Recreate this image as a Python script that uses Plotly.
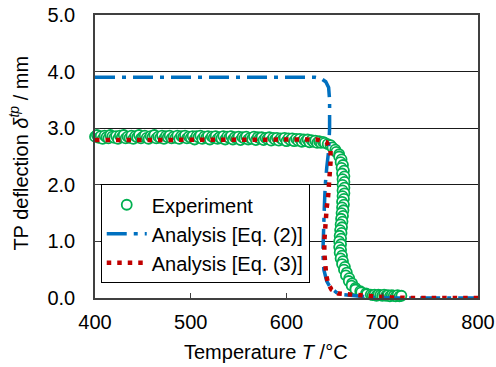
import plotly.graph_objects as go

# Experiment (green open circles) - flat part, every 2 degC from 400 to 638
exp_T_flat = list(range(400, 640, 2))
exp_v_flat = [2.85, 2.88, 2.83, 2.86, 2.81, 2.87, 2.84, 2.82, 2.88, 2.85,
              2.83, 2.86, 2.81, 2.87, 2.84, 2.88, 2.82, 2.85, 2.83, 2.87,
              2.81, 2.86, 2.84, 2.88, 2.82, 2.85, 2.87, 2.83, 2.81, 2.86,
              2.84, 2.88, 2.82, 2.85, 2.83, 2.87, 2.81, 2.86, 2.84, 2.87,
              2.82, 2.85, 2.83, 2.87, 2.81, 2.86, 2.84, 2.87, 2.82, 2.85,
              2.83, 2.86, 2.80, 2.86, 2.84, 2.87, 2.81, 2.85, 2.83, 2.86,
              2.80, 2.85, 2.83, 2.86, 2.81, 2.84, 2.82, 2.86, 2.80, 2.85,
              2.83, 2.86, 2.80, 2.84, 2.82, 2.85, 2.79, 2.84, 2.82, 2.85,
              2.80, 2.83, 2.81, 2.85, 2.79, 2.84, 2.82, 2.84, 2.79, 2.83,
              2.81, 2.84, 2.78, 2.83, 2.80, 2.83, 2.78, 2.82, 2.80, 2.83,
              2.77, 2.82, 2.79, 2.82, 2.77, 2.81, 2.78, 2.81, 2.76, 2.80,
              2.77, 2.80, 2.75, 2.79, 2.76, 2.78, 2.74, 2.77, 2.74, 2.76]
# Experiment - drop part
exp_T_drop = [640, 643, 646, 648, 651, 652, 655, 655, 657.5, 656.5,
              659, 657.5, 660, 658, 660.5, 658.5, 660.5, 658.5, 660.5, 658.5,
              660.5, 658.5, 660, 658, 660, 658, 659.5, 657.5, 659, 657,
              658.5, 656.5, 658, 656, 657.5, 655.5, 657, 655, 657, 655,
              657, 655.5, 658, 656.5, 659, 658, 661, 660, 663, 662,
              665.5, 665, 668.5, 668, 672, 672, 677, 678, 683, 684,
              688, 690, 692, 694, 696, 698, 700, 702, 704, 706,
              708, 710, 712, 714, 716, 718, 720]
exp_v_drop = [2.74, 2.72, 2.70, 2.66, 2.62, 2.58, 2.54, 2.50, 2.45, 2.40,
              2.35, 2.30, 2.25, 2.20, 2.15, 2.10, 2.05, 2.00, 1.95, 1.90,
              1.85, 1.80, 1.75, 1.70, 1.65, 1.60, 1.55, 1.50, 1.45, 1.40,
              1.35, 1.30, 1.25, 1.20, 1.15, 1.10, 1.05, 1.00, 0.95, 0.90,
              0.85, 0.80, 0.75, 0.70, 0.65, 0.60, 0.55, 0.50, 0.45, 0.40,
              0.35, 0.30, 0.26, 0.22, 0.18, 0.15, 0.12, 0.10, 0.08, 0.07,
              0.06, 0.05, 0.06, 0.04, 0.06, 0.05, 0.04, 0.06, 0.04, 0.05,
              0.03, 0.05, 0.04, 0.03, 0.05, 0.03, 0.04]
exp_T = exp_T_flat + exp_T_drop
exp_v = exp_v_flat + exp_v_drop

# Analysis [Eq. (2)] (blue dash-dot)
eq2_T = [400, 500, 600, 630, 636, 641, 644, 645, 645, 644, 642, 640.5, 639.5, 638.5, 638,
         639, 642, 646, 652, 660, 675, 690, 710, 800]
eq2_v = [3.9, 3.9, 3.9, 3.9, 3.88, 3.82, 3.72, 3.5, 3.0, 2.6, 2.3, 2.0, 1.6, 1.2, 0.8,
         0.5, 0.3, 0.18, 0.1, 0.06, 0.03, 0.01, 0.0, 0.0]

# Analysis [Eq. (3)] (red dotted)
eq3_T = [400, 500, 600, 632, 642, 646, 646, 645.5, 645, 643.5, 642, 641, 640, 639.5, 639.5,
         640, 641.5, 643.5, 647, 654, 670, 690, 710, 730, 800]
eq3_v = [2.79, 2.80, 2.80, 2.80, 2.75, 2.6, 2.4, 2.2, 2.0, 1.8, 1.6, 1.4, 1.2, 1.0, 0.8,
         0.6, 0.4, 0.25, 0.15, 0.08, 0.05, 0.03, 0.01, 0.0, 0.0]

x_ticks = [400, 500, 600, 700, 800]
y_ticks = [0.0, 1.0, 2.0, 3.0, 4.0, 5.0]

FONT = "Liberation Sans, Arial, sans-serif"
FS = 20

fig = go.Figure()
fig.add_trace(go.Scatter(
    x=exp_T, y=exp_v, mode="markers", name="Experiment", cliponaxis=False,
    legendgroup="g1",
    marker=dict(symbol="circle", size=10, color="white",
                line=dict(color="#00b050", width=1.8))))
fig.add_trace(go.Scatter(
    x=eq2_T, y=eq2_v, mode="lines", name="Analysis [Eq. (2)]", legendgroup="g2",
    line=dict(color="#0070c0", width=3.5, dash="20px,7px,4px,7px")))
fig.add_trace(go.Scatter(
    x=eq3_T, y=eq3_v, mode="lines", name="Analysis [Eq. (3)]", legendgroup="g3",
    line=dict(color="#c00000", width=4.5, dash="4.5px,6px")))

fig.update_layout(
    width=496, height=367,
    margin=dict(l=95, r=18, t=15, b=69),
    paper_bgcolor="white", plot_bgcolor="white",
    font=dict(family=FONT, size=FS, color="#000000"),
    showlegend=True,
    legend=dict(x=0.015, y=0.402, xanchor="left", yanchor="top",
                bordercolor="#000000", borderwidth=1, bgcolor="white",
                font=dict(family=FONT, size=20, color="#000000"),
                itemwidth=40, tracegroupgap=0),
    annotations=[
        dict(text="Temperature <i>T</i> /°C", xref="paper", yref="paper",
             x=0.4465, y=-0.19, xanchor="center", yanchor="middle",
             showarrow=False, font=dict(family=FONT, size=FS)),
        dict(text="TP deflection <i>δ</i><sup><i>tp</i></sup> / mm", xref="paper", yref="paper",
             x=-0.1997, y=0.512, xanchor="center", yanchor="middle", textangle=-90,
             showarrow=False, font=dict(family=FONT, size=FS)),
    ],
)
fig.update_xaxes(
    range=[400, 800], tickvals=x_ticks, ticktext=[str(v) for v in x_ticks],
    showgrid=False, zeroline=False, automargin=False,
    showline=True, linecolor="#404040", linewidth=1.5, mirror=True,
    ticks="inside", ticklen=5, tickcolor="#404040", tickwidth=1,
    ticklabelstandoff=5,
)
fig.update_yaxes(
    range=[0, 5], tickvals=y_ticks, ticktext=[f"{v:.1f}" for v in y_ticks],
    showgrid=True, gridcolor="#1a1a1a", gridwidth=1, zeroline=False, automargin=False,
    showline=True, linecolor="#404040", linewidth=1.5, mirror=True,
    ticks="inside", ticklen=5, tickcolor="#404040", tickwidth=1,
    ticklabelstandoff=14,
)

fig.write_html("out.html")
